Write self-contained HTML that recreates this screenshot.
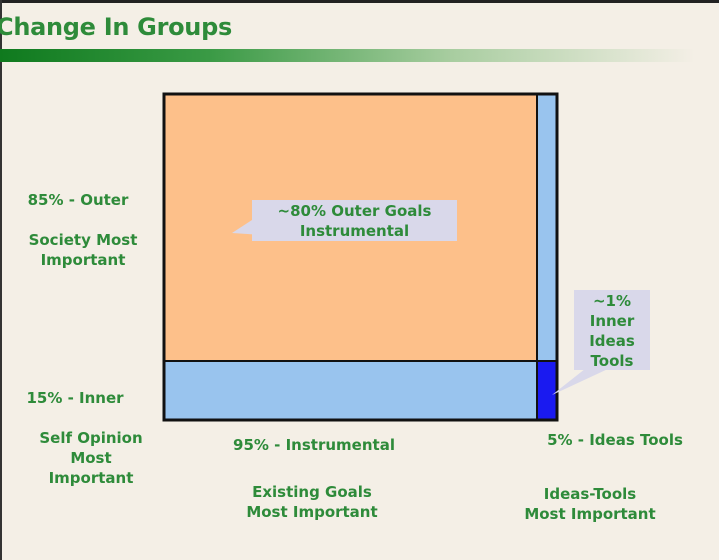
<!DOCTYPE html>
<html><head><style>
body{margin:0;width:719px;height:560px;overflow:hidden;background:#f4efe6;font-family:"DejaVu Sans","Liberation Sans",sans-serif;position:relative}
.t{position:absolute;color:#2e8b3a;font-weight:bold;font-size:15px;text-align:center;line-height:20px;white-space:nowrap}
</style></head><body>
<div style="position:absolute;left:0;top:0;width:719px;height:3px;background:#222"></div>
<div style="position:absolute;left:0;top:0;width:2px;height:560px;background:#333"></div>
<div style="position:absolute;left:-4px;top:13px;color:#2e8b3a;font-weight:bold;font-size:24px;letter-spacing:-0.3px">Change In Groups</div>
<div style="position:absolute;left:0;top:49px;width:695px;height:13px;background:linear-gradient(90deg,#0f7a1e 0%,#3a9a45 30%,#a8cda0 65%,#f4efe6 100%)"></div>
<svg width="719" height="560" style="position:absolute;left:0;top:0">
<rect x="164" y="94" width="373" height="267" fill="#fdc08a"/>
<rect x="537" y="94" width="20" height="267" fill="#99c4ee"/>
<rect x="164" y="361" width="373" height="59" fill="#99c4ee"/>
<rect x="537" y="361" width="20" height="59" fill="#1a1af0"/>
<line x1="164" y1="361" x2="557" y2="361" stroke="#111" stroke-width="2"/>
<line x1="537" y1="94" x2="537" y2="420" stroke="#111" stroke-width="2"/>
<rect x="164" y="94" width="393" height="326" fill="none" stroke="#111" stroke-width="3"/>
<polygon points="252,220 232,233 262,235" fill="#d9d8ea"/>
<rect x="252" y="200" width="205" height="41" fill="#d9d8ea"/>
<polygon points="590,365 552,395 610,368" fill="#d9d8ea"/>
<rect x="574" y="290" width="76" height="80" fill="#d9d8ea"/>
</svg>
<div class="t" style="left:252px;top:201px;width:205px">~80% Outer Goals<br>Instrumental</div>
<div class="t" style="left:574px;top:291px;width:76px">~1%<br>Inner<br>Ideas<br>Tools</div>
<div class="t" style="left:18px;top:190px;width:120px">85% - Outer</div>
<div class="t" style="left:18px;top:230px;width:130px">Society Most<br>Important</div>
<div class="t" style="left:20px;top:388px;width:110px">15% - Inner</div>
<div class="t" style="left:26px;top:428px;width:130px">Self Opinion<br>Most<br>Important</div>
<div class="t" style="left:214px;top:435px;width:200px">95% - Instrumental</div>
<div class="t" style="left:212px;top:482px;width:200px">Existing Goals<br>Most Important</div>
<div class="t" style="left:520px;top:430px;width:190px">5% - Ideas Tools</div>
<div class="t" style="left:495px;top:484px;width:190px">Ideas-Tools<br>Most Important</div>
</body></html>
